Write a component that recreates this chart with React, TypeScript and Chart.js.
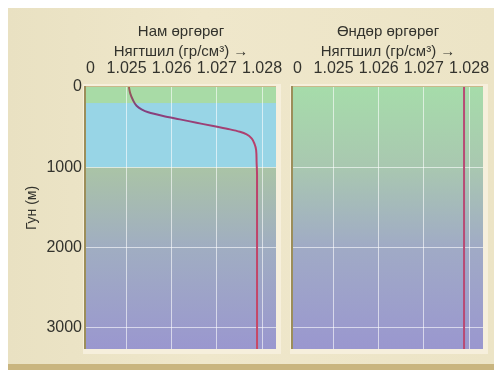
import React, { useEffect, useRef } from 'react';
import { Chart, registerables } from 'chart.js';

Chart.register(...registerables);

// ---- data ----
const panelTitles = ['Нам өргөрөг', 'Өндөр өргөрөг'];
const xAxisTitle = 'Нягтшил (гр/см³) →';
const yAxisTitle = 'Гун (м)';

const xTickValues = [1.0242, 1.025, 1.026, 1.027, 1.028];
const xTickLabels = ['0', '1.025', '1.026', '1.027', '1.028'];
const yTickValues = [0, 1000, 2000, 3000];
const yTickLabels = ['0', '1000', '2000', '3000'];

const xMin = 1.0241;
const xMax = 1.02831;
const yMax = 3270;

// low latitude profile (depth m, density g/cm3)
const lowLatDepth = [0, 79, 162, 234, 279, 316, 362, 404, 446, 488, 529, 559, 591, 641, 704, 788, 934, 1100, 2000, 3270];
const lowLatDensity = [1.02505, 1.02508, 1.02514, 1.02522, 1.02533, 1.02548, 1.02581, 1.02618, 1.02655, 1.02692, 1.02729, 1.02751, 1.02766, 1.02777, 1.02783, 1.02787, 1.02788, 1.02789, 1.02789, 1.02789];

// high latitude profile
const highLatDepth = [0, 3270];
const highLatDensity = [1.02789, 1.02789];

const FONT = '"Liberation Sans", Arial, Helvetica, sans-serif';
const TEXT = '#33332d';

type PanelProps = {
  title: string;
  depth: number[];
  density: number[];
  showY: boolean;
  low: boolean;
  left: number;
};

function Panel({ title, depth, density, showY, low, left }: PanelProps) {
  const ref = useRef<HTMLCanvasElement | null>(null);
  useEffect(() => {
    if (!ref.current) return;
    const bgPlugin = {
      id: 'panelBg',
      beforeDraw(chart: any) {
        const { ctx, chartArea: a, scales } = chart;
        const y = scales.y;
        const w = a.right - a.left;
        const h = a.bottom - a.top;
        ctx.save();
        ctx.fillStyle = '#f6efdc';
        ctx.fillRect(a.left - 3, a.top - 3, w + 8, h + 8);
        if (low) {
          const y1000 = y.getPixelForValue(1000);
          const g = ctx.createLinearGradient(0, y1000, 0, a.bottom);
          g.addColorStop(0, '#aac4a6');
          g.addColorStop(0.45, '#a0adc2');
          g.addColorStop(1, '#9a97cf');
          ctx.fillStyle = g;
          ctx.fillRect(a.left, a.top, w, h);
          const y200 = y.getPixelForValue(200);
          ctx.fillStyle = '#a8dba6';
          ctx.fillRect(a.left, a.top, w, y200 - a.top);
          ctx.fillStyle = '#98d5e6';
          ctx.fillRect(a.left, y200, w, y1000 - y200);
        } else {
          const g = ctx.createLinearGradient(0, a.top, 0, a.bottom);
          g.addColorStop(0, '#a6dcaa');
          g.addColorStop(0.3, '#a9c8b0');
          g.addColorStop(0.62, '#a0aac6');
          g.addColorStop(1, '#9a97cf');
          ctx.fillStyle = g;
          ctx.fillRect(a.left, a.top, w, h);
        }
        ctx.fillStyle = '#c9b98a';
        ctx.fillRect(a.left - 2, a.top - 1, w + 2, 1);
        ctx.fillStyle = '#9c8e5a';
        ctx.fillRect(a.left - 2, a.top - 1, 2, h + 1);
        ctx.restore();
      },
      afterDraw(chart: any) {
        if (!showY) return;
        const { ctx, chartArea: a } = chart;
        ctx.save();
        ctx.translate(24, (a.top + a.bottom) / 2 - 10);
        ctx.rotate(-Math.PI / 2);
        ctx.fillStyle = TEXT;
        ctx.font = `14px ${FONT}`;
        ctx.textAlign = 'center';
        ctx.textBaseline = 'middle';
        ctx.fillText(yAxisTitle, 0, 0);
        ctx.restore();
      },
    };

    const chart = new Chart(ref.current, {
      type: 'line',
      data: {
        datasets: [
          {
            data: depth.map((d, i) => ({ x: density[i], y: d })),
            borderColor: (c: any) => {
              const a = c.chart.chartArea;
              if (!a) return '#b0406e';
              if (!low) return '#b84a74';
              const g = c.chart.ctx.createLinearGradient(0, a.top, 0, a.bottom);
              g.addColorStop(0, '#a0604e');
              g.addColorStop(0.08, '#7e4080');
              g.addColorStop(0.2, '#b8406c');
              g.addColorStop(1, '#c84866');
              return g;
            },
            borderWidth: 2,
            pointRadius: 0,
            fill: false,
            cubicInterpolationMode: 'monotone',
            indexAxis: 'y',
          } as any,
        ],
      },
      options: {
        animation: false,
        responsive: false,
        indexAxis: 'y',
        layout: { padding: { left: 0, top: 0, right: 12, bottom: 15 } },
        plugins: { legend: { display: false }, tooltip: { enabled: false }, title: { display: false } },
        scales: {
          x: {
            type: 'linear',
            position: 'top',
            min: xMin,
            max: xMax,
            border: { display: false },
            afterBuildTicks: (s: any) => {
              s.ticks = xTickValues.map((v) => ({ value: v }));
            },
            afterFit: (s: any) => {
              s.height = 79;
              s.paddingLeft = 0;
              s.paddingRight = 0;
            },
            grid: {
              drawTicks: false,
              color: (c: any) => (c.index === 0 ? 'rgba(0,0,0,0)' : 'rgba(255,255,255,0.6)'),
              lineWidth: 1,
            },
            ticks: {
              padding: 9,
              maxRotation: 0,
              autoSkip: false,
              color: TEXT,
              font: { family: FONT, size: 16 },
              callback: (_v: any, i: number) => xTickLabels[i],
            },
            title: {
              display: true,
              text: [title, xAxisTitle],
              color: TEXT,
              font: { family: FONT, size: 15, lineHeight: '20px' },
              padding: { top: 14, bottom: 0 },
            },
          },
          y: {
            type: 'linear',
            reverse: true,
            min: 0,
            max: yMax,
            border: { display: false },
            afterBuildTicks: (s: any) => {
              s.ticks = yTickValues.map((v) => ({ value: v }));
            },
            afterFit: (s: any) => {
              s.width = 78;
              s.paddingTop = 0;
              s.paddingBottom = 0;
            },
            grid: {
              drawTicks: false,
              color: (c: any) => (c.tick && c.tick.value === 0 ? 'rgba(0,0,0,0)' : 'rgba(255,255,255,0.6)'),
              lineWidth: 1,
            },
            ticks: {
              display: showY,
              padding: 4,
              autoSkip: false,
              color: TEXT,
              font: { family: FONT, size: 16 },
              callback: (_v: any, i: number) => yTickLabels[i],
            },
            title: { display: false },
          },
        },
      },
      plugins: [bgPlugin],
    } as any);
    return () => chart.destroy();
  }, []);
  return (
    <canvas
      ref={ref}
      width={280}
      height={356}
      style={{ position: 'absolute', left, top: 0, width: 280, height: 356 }}
    />
  );
}

export default function App() {
  return (
    <div
      style={{
        position: 'relative',
        width: 487,
        height: 356,
        background: 'linear-gradient(90deg, #e9e1c2 0%, #efe7cb 40%, #ece4c6 100%)',
        borderRight: '3px solid #d6c693',
        borderBottom: '6px solid #c9b57f',
      }}
    >
      <Panel title={panelTitles[0]} depth={lowLatDepth} density={lowLatDensity} showY={true} low={true} left={0} />
      <Panel title={panelTitles[1]} depth={highLatDepth} density={highLatDensity} showY={false} low={false} left={207} />
    </div>
  );
}
